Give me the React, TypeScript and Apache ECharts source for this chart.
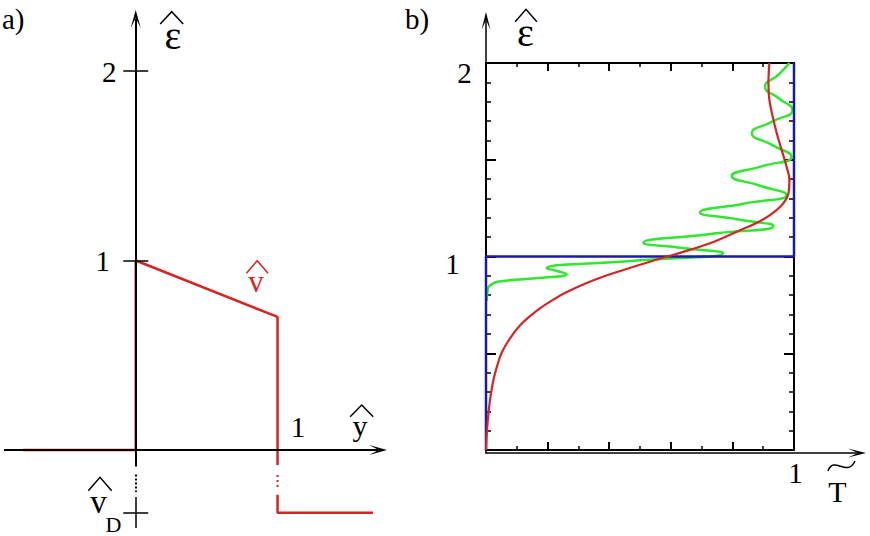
import React, { useEffect, useRef } from 'react';
import * as echarts from 'echarts';

// ---------- panel a) : potential profile ----------
const aXMin = -0.929;
const aXMax = 1.772;
const aYMin = -0.412;
const aYMax = 2.322;
const aYTicks = [1, 2];
const aXTickLabel = 1;
const vDLevel = -0.332;
const potentialUpper = [[-0.795, 0], [0, 0], [0, 1], [1, 0.702], [1, -0.08]];
const potentialGap = [[1, -0.132], [1, -0.2]];
const potentialLower = [[1, -0.237], [1, vDLevel], [1.673, vDLevel]];
const aAxisBreak = [[-0.088, -0.13], [-0.222, -0.248]];

// ---------- panel b) : transmission vs energy ----------
const bYTicks = [1, 2];
const bXTicks = [1];
const transmissionStep = [[0, 0], [0, 1], [1, 1], [1, 2]];
const transmissionSmooth = [
  [0, 0], [0.0013, 0.052], [0.0058, 0.155], [0.013, 0.258], [0.024, 0.362],
  [0.037, 0.439], [0.052, 0.506], [0.078, 0.577], [0.11, 0.643], [0.143, 0.692],
  [0.175, 0.732], [0.208, 0.767], [0.256, 0.811], [0.321, 0.859], [0.386, 0.899],
  [0.451, 0.933], [0.532, 0.973], [0.63, 1.019], [0.727, 1.068], [0.814, 1.128],
  [0.898, 1.19], [0.955, 1.257], [0.982, 1.327], [0.985, 1.395], [0.976, 1.464],
  [0.96, 1.55], [0.944, 1.637], [0.931, 1.722], [0.92, 1.809], [0.917, 1.895],
  [0.92, 2.0],
];
const transmissionResonant = [
  [0.002, 0.77], [0.006, 0.83], [0.02, 0.858], [0.05, 0.872], [0.16, 0.888],
  [0.262, 0.909], [0.23, 0.925], [0.197, 0.939], [0.48, 0.978], [0.77, 1.017],
  [0.638, 1.044], [0.511, 1.071], [0.722, 1.115], [0.933, 1.158], [0.814, 1.193],
  [0.695, 1.228], [0.836, 1.273], [0.976, 1.318], [0.887, 1.367], [0.798, 1.416],
  [0.895, 1.466], [0.992, 1.516], [0.928, 1.577], [0.863, 1.637], [0.929, 1.697],
  [0.995, 1.757], [0.95, 1.818], [0.906, 1.878], [0.95, 1.94], [0.985, 2.0],
];

const FONT = '"Liberation Serif", "Times New Roman", serif';
const RED = '#d42424';
const BLUE = '#1a1aa8';
const GREEN = '#30e630';
const ARROW = 'path://M5,0L10,20L5,9L0,20Z';

export default function App() {
  const ref = useRef<HTMLDivElement>(null);
  useEffect(() => {
    const el = ref.current!;
    const chart = echarts.init(el, null, { renderer: 'svg' });

    const aW = 383, aH = 518;
    const pxX = (aXMax - aXMin) / aW;
    const pxY = (aYMax - aYMin) / aH;
    const arrowHalf = 9;
    const tickHalf = 12.5 * pxX;

    const boxX = (pos: string) => ({
      gridIndex: 1, type: 'value', min: 0, max: 1, interval: 0.2, position: pos,
      axisLine: { show: true, onZero: false, lineStyle: { color: '#000', width: 2 } },
      axisTick: { show: true, inside: true, length: 8, lineStyle: { color: '#000', width: 2 } },
      minorTick: { show: true, splitNumber: 2, length: 4, lineStyle: { color: '#000', width: 1.5 } },
      axisLabel: { show: false }, splitLine: { show: false }, minorSplitLine: { show: false },
    });
    const boxY = (pos: string) => ({
      gridIndex: 1, type: 'value', min: 0, max: 2, interval: 0.5, position: pos,
      axisLine: { show: true, onZero: false, lineStyle: { color: '#000', width: 2 } },
      axisTick: { show: true, inside: true, length: 10, lineStyle: { color: '#000', width: 2 } },
      minorTick: { show: true, splitNumber: 5, length: 5, lineStyle: { color: '#000', width: 1.5 } },
      axisLabel: { show: false }, splitLine: { show: false }, minorSplitLine: { show: false },
    });
    const outerAxis = (extra: any) => ({
      gridIndex: 2, type: 'value', min: 0, max: 1,
      axisLine: {
        show: true, onZero: false, symbol: ['none', ARROW], symbolSize: [10, 18],
        lineStyle: { color: '#000', width: 1.5 },
      },
      axisTick: { show: false }, axisLabel: { show: false }, splitLine: { show: false },
      ...extra,
    });

    const seg = (a: number[], b: number[]) => [{ coord: a }, { coord: b }];
    const ml = (data: any[], lineStyle: any, symbol: any = 'none') => ({
      silent: true, symbol, symbolSize: [10, 18], label: { show: false },
      emphasis: { disabled: true }, lineStyle, data,
    });

    const option: any = {
      animation: false,
      grid: [
        { left: 4, top: 10, width: aW, height: aH },
        { left: 486, top: 63, width: 308, height: 387 },
        { left: 486, top: 21, right: 13, bottom: 83 },
      ],
      xAxis: [
        { gridIndex: 0, type: 'value', min: aXMin, max: aXMax, show: false },
        boxX('bottom'),
        boxX('top'),
        outerAxis({ position: 'bottom' }),
      ],
      yAxis: [
        { gridIndex: 0, type: 'value', min: aYMin, max: aYMax, show: false },
        boxY('left'),
        boxY('right'),
        outerAxis({ position: 'left' }),
      ],
      series: [
        {
          type: 'line', xAxisIndex: 0, yAxisIndex: 0, data: [], z: 2,
          markLine: ml(
            [
              seg([aXMin, 0], [aXMax - arrowHalf * pxX, 0]),
              seg([0, aAxisBreak[0][0]], [0, aYMax - arrowHalf * pxY]),
            ],
            { color: '#000', width: 2, type: 'solid' },
            ['none', ARROW],
          ),
        },
        {
          type: 'line', xAxisIndex: 0, yAxisIndex: 0, data: [], z: 2,
          markLine: ml(
            [
              seg([0, aAxisBreak[1][1]], [0, aYMin]),
              ...aYTicks.map((v) => seg([-tickHalf, v], [tickHalf, v])),
              seg([-tickHalf, vDLevel], [tickHalf, vDLevel]),
            ],
            { color: '#000', width: 1.5, type: 'solid' },
          ),
        },
        {
          type: 'line', xAxisIndex: 0, yAxisIndex: 0, data: [], z: 2,
          markLine: ml(
            [seg([0, aAxisBreak[0][1]], [0, aAxisBreak[1][0]])],
            { color: '#000', width: 2, type: [2, 2] },
          ),
        },
        {
          type: 'line', xAxisIndex: 0, yAxisIndex: 0, data: potentialUpper, z: 3,
          symbol: 'none', lineStyle: { color: RED, width: 2.5 }, clip: false,
        },
        {
          type: 'line', xAxisIndex: 0, yAxisIndex: 0, data: potentialGap, z: 3,
          symbol: 'none', lineStyle: { color: RED, width: 2, type: [2, 3] }, clip: false,
        },
        {
          type: 'line', xAxisIndex: 0, yAxisIndex: 0, data: potentialLower, z: 3,
          symbol: 'none', lineStyle: { color: RED, width: 2.5 }, clip: false,
        },
        {
          type: 'line', xAxisIndex: 1, yAxisIndex: 1, data: transmissionResonant, z: 3,
          symbol: 'none', smooth: 0.55, lineStyle: { color: GREEN, width: 2.5 }, clip: false,
        },
        {
          type: 'line', xAxisIndex: 1, yAxisIndex: 1, data: transmissionStep, z: 4,
          symbol: 'none', lineStyle: { color: BLUE, width: 2.5 }, clip: false,
        },
        {
          type: 'line', xAxisIndex: 1, yAxisIndex: 1, data: transmissionSmooth, z: 5,
          symbol: 'none', smooth: 0.4, lineStyle: { color: RED, width: 2.2 }, clip: false,
        },
      ],
    };
    chart.setOption(option);

    const P = (g: number, pt: number[]) => chart.convertToPixel({ gridIndex: g } as any, pt) as number[];
    const txt = (text: string, x: number, y: number, size: number, fill = '#000', align = 'center') => ({
      type: 'text', x, y, silent: true, z: 20,
      style: { text, font: `${size}px ${FONT}`, fill, align, verticalAlign: 'middle', lineHeight: size },
    });
    const hat = (cx: number, top: number, w: number, h: number, stroke = '#000') => ({
      type: 'polyline', silent: true, z: 20,
      shape: { points: [[cx - w / 2, top + h], [cx, top], [cx + w / 2, top + h]] },
      style: { stroke, lineWidth: 1.5, fill: 'none' },
    });

    const g: any[] = [];
    // panel a)
    g.push(txt('a)', 2, 18.5, 29, '#000', 'left'));
    const a2 = P(0, [0, aYTicks[1]]);
    const a1 = P(0, [0, aYTicks[0]]);
    g.push(txt(String(aYTicks[1]), a2[0] - 26.5, a2[1] + 1, 29));
    g.push(txt(String(aYTicks[0]), a1[0] - 33, a1[1] + 0.5, 29));
    const ax1 = P(0, [aXTickLabel, 0]);
    g.push(txt(String(aXTickLabel), ax1[0] + 20.5, ax1[1] - 22.5, 29));
    g.push(txt('ε', 173, 35, 40));
    g.push(hat(171.7, 11.7, 23, 12.3));
    g.push(txt('y', 360, 425.5, 30));
    g.push(hat(361.7, 405, 23, 11.7));
    g.push(txt('v', 256, 281.5, 31, RED));
    g.push(hat(257.2, 260.7, 21.6, 12.6, RED));
    g.push(txt('v', 98.5, 501.5, 33));
    g.push(hat(100, 477.3, 23.4, 13.4));
    g.push(txt('D', 113.5, 524, 22));

    // panel b)
    g.push(txt('b)', 405, 18.5, 29, '#000', 'left'));
    const b2 = P(1, [0, bYTicks[1]]);
    const b1 = P(1, [0, bYTicks[0]]);
    g.push(txt(String(bYTicks[1]), b2[0] - 21.5, b2[1] + 9.5, 29));
    g.push(txt(String(bYTicks[0]), b1[0] - 33.5, b1[1] + 7, 29));
    const bx1 = P(1, [bXTicks[0], 0]);
    g.push(txt(String(bXTicks[0]), bx1[0] + 1.5, bx1[1] + 22.5, 29));
    g.push(txt('ε', 525.5, 32, 40));
    g.push(hat(526, 9.3, 21.7, 12.4));
    g.push(txt('T', 837.5, 491.8, 30));
    g.push({
      type: 'bezierCurve', silent: true, z: 20,
      shape: { x1: 828, y1: 471, cpx1: 834, cpy1: 455, cpx2: 847, cpy2: 478, x2: 855, y2: 461 },
      style: { stroke: '#000', lineWidth: 1.5, fill: 'none' },
    });

    chart.setOption({ graphic: g });
    return () => chart.dispose();
  }, []);
  return <div ref={ref} style={{ position: 'fixed', left: 0, top: 0, width: 870, height: 536, background: '#fff' }} />;
}
